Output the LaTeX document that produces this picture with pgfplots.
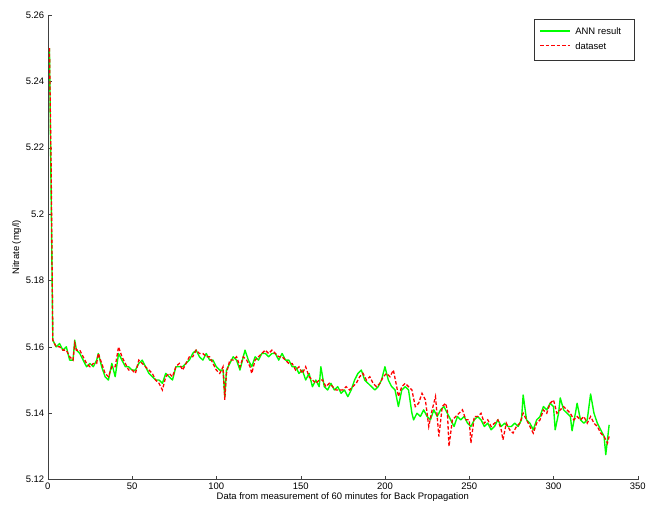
\documentclass[border=0pt]{standalone}
\usepackage{fontspec}
\setmainfont{Liberation Sans}
\usepackage{pgfplots}
\pgfplotsset{compat=1.18}
\usepackage{pgfplotstable}

\pgfplotstableread{
x y
1 5.250
2 5.215
3 5.162
5 5.160
7 5.160
9 5.159
11 5.159
13 5.157
15 5.156
16 5.161
17 5.159
19 5.159
21 5.157
23 5.155
25 5.154
27 5.155
29 5.155
30 5.158
32 5.155
34 5.152
36 5.151
38 5.154
40 5.154
42 5.160
44 5.157
46 5.155
48 5.153
50 5.153
52 5.152
54 5.156
56 5.155
58 5.154
60 5.153
62 5.152
64 5.150
66 5.149
68 5.147
70 5.151
72 5.152
74 5.151
76 5.154
78 5.155
80 5.153
82 5.155
84 5.157
86 5.157
88 5.159
90 5.158
92 5.158
94 5.157
96 5.157
98 5.155
100 5.153
102 5.152
104 5.154
105 5.144
106 5.152
108 5.156
110 5.156
112 5.157
114 5.154
116 5.157
118 5.156
120 5.154
121 5.152
123 5.156
125 5.157
127 5.158
129 5.159
131 5.158
133 5.159
135 5.158
137 5.157
139 5.157
141 5.156
143 5.155
145 5.155
147 5.153
149 5.154
151 5.152
153 5.154
155 5.151
157 5.150
159 5.149
161 5.150
163 5.150
165 5.148
167 5.149
169 5.148
171 5.147
173 5.147
175 5.147
177 5.148
179 5.147
181 5.148
183 5.149
185 5.151
187 5.152
189 5.150
191 5.151
193 5.149
195 5.148
197 5.149
199 5.151
201 5.152
203 5.151
205 5.153
207 5.148
208 5.145
210 5.148
212 5.149
214 5.148
216 5.147
218 5.142
220 5.143
222 5.146
224 5.144
226 5.136
228 5.141
230 5.145
232 5.133
234 5.142
236 5.143
237 5.141
238 5.130
240 5.138
242 5.139
244 5.140
246 5.141
248 5.138
250 5.138
251 5.131
253 5.139
255 5.139
257 5.140
259 5.137
261 5.138
263 5.136
265 5.137
267 5.138
269 5.135
270 5.132
272 5.137
274 5.135
276 5.134
278 5.136
280 5.137
282 5.140
284 5.138
286 5.136
288 5.134
290 5.137
292 5.138
294 5.141
296 5.140
298 5.143
300 5.144
302 5.140
304 5.141
306 5.142
308 5.141
310 5.140
312 5.138
314 5.139
316 5.138
318 5.139
320 5.137
322 5.139
324 5.137
326 5.136
328 5.134
330 5.133
332 5.131
333 5.133
}\dataset

\pgfplotstableread{
x y
1 5.250
2 5.206
3 5.162
5 5.160
7 5.161
9 5.159
11 5.160
13 5.156
15 5.156
16 5.162
17 5.159
19 5.158
21 5.156
23 5.154
25 5.155
27 5.154
29 5.156
30 5.158
32 5.154
34 5.151
36 5.150
38 5.155
40 5.151
42 5.158
44 5.156
46 5.154
48 5.154
50 5.153
52 5.153
54 5.155
56 5.156
58 5.154
60 5.152
62 5.151
64 5.150
66 5.150
68 5.149
70 5.152
72 5.151
74 5.150
76 5.154
78 5.154
80 5.154
82 5.155
84 5.156
86 5.158
88 5.159
90 5.157
92 5.156
94 5.158
96 5.156
98 5.156
100 5.154
102 5.153
104 5.153
105 5.145
106 5.153
108 5.155
110 5.157
112 5.156
114 5.153
116 5.157
117 5.159
119 5.156
121 5.154
123 5.157
125 5.156
127 5.158
129 5.158
131 5.157
133 5.158
135 5.158
137 5.156
139 5.158
141 5.156
143 5.156
145 5.154
147 5.154
149 5.152
151 5.153
153 5.150
155 5.152
157 5.148
159 5.150
161 5.148
162 5.154
164 5.148
166 5.147
168 5.149
170 5.147
172 5.148
174 5.146
176 5.147
178 5.145
180 5.147
182 5.150
184 5.152
186 5.153
188 5.150
190 5.149
192 5.148
194 5.147
196 5.148
198 5.150
200 5.154
202 5.150
204 5.148
206 5.147
208 5.142
210 5.147
212 5.148
214 5.147
216 5.140
217 5.138
219 5.140
221 5.139
223 5.141
225 5.139
227 5.138
229 5.141
231 5.139
233 5.141
235 5.142
237 5.140
239 5.138
241 5.136
243 5.139
245 5.138
247 5.139
249 5.137
251 5.136
253 5.138
255 5.139
257 5.138
259 5.136
261 5.137
263 5.135
265 5.136
267 5.138
269 5.136
271 5.137
273 5.136
275 5.136
277 5.137
279 5.136
281 5.138
282 5.1455
284 5.138
286 5.137
288 5.135
290 5.138
292 5.139
294 5.142
296 5.141
298 5.143
300 5.142
301 5.135
303 5.140
304 5.1446
306 5.141
308 5.140
310 5.139
311 5.1347
313 5.140
314 5.143
316 5.138
318 5.137
320 5.138
322 5.1458
324 5.140
326 5.137
328 5.135
330 5.133
331 5.1275
333 5.1365
}\ann

\begin{document}
\begin{tikzpicture}
\begin{axis}[
  scale only axis,
  width=593pt, height=467pt,
  xmin=0, xmax=350, ymin=5.12, ymax=5.26,
  xtick={0,50,...,350},
  ytick={5.12,5.14,5.16,5.18,5.2,5.22,5.24,5.26},
  yticklabels={5.12,5.14,5.16,5.18,5.2,5.22,5.24,5.26},
  axis lines=left,
  axis line style={-, draw=black!75},
  tick align=inside,
  major tick length=4pt,
  tick style={black!75},
  /pgf/number format/assume math mode=true,
  ticklabel style={font=\fontsize{9.5}{11}\selectfont},
  label style={font=\fontsize{9.5}{11}\selectfont},
  xlabel={Data from measurement of 60 minutes for Back Propagation},
  ylabel={Nitrate (mg/l)},
  xlabel style={yshift=4pt},
  ylabel style={yshift=-2pt},
]
\addplot[color=green, line width=1.4pt, line join=round] table[x=x,y=y] {\ann};
\addplot[color=red, line width=1.3pt, dash pattern=on 3.5pt off 2pt] table[x=x,y=y] {\dataset};
% legend (drawn by hand in axis description coordinates)
\draw[black!80, fill=white, line width=0.5pt] (axis description cs:0.8246,0.9015) rectangle (axis description cs:0.9933,0.9914);
\draw[green, line width=1.4pt] (axis description cs:0.8347,0.9657) -- (axis description cs:0.8853,0.9657);
\draw[red, line width=1.3pt, dash pattern=on 3.5pt off 2pt] (axis description cs:0.8347,0.9336) -- (axis description cs:0.8853,0.9336);
\node[anchor=west, inner sep=0pt, font=\fontsize{9.5}{11}\selectfont] at (axis description cs:0.8938,0.9657) {ANN result};
\node[anchor=west, inner sep=0pt, font=\fontsize{9.5}{11}\selectfont] at (axis description cs:0.8938,0.9336) {dataset};
\end{axis}
\path ([xshift=-48pt,yshift=-36pt]current axis.south west) rectangle ([xshift=8pt,yshift=15pt]current axis.north east);
\end{tikzpicture}
\end{document}
